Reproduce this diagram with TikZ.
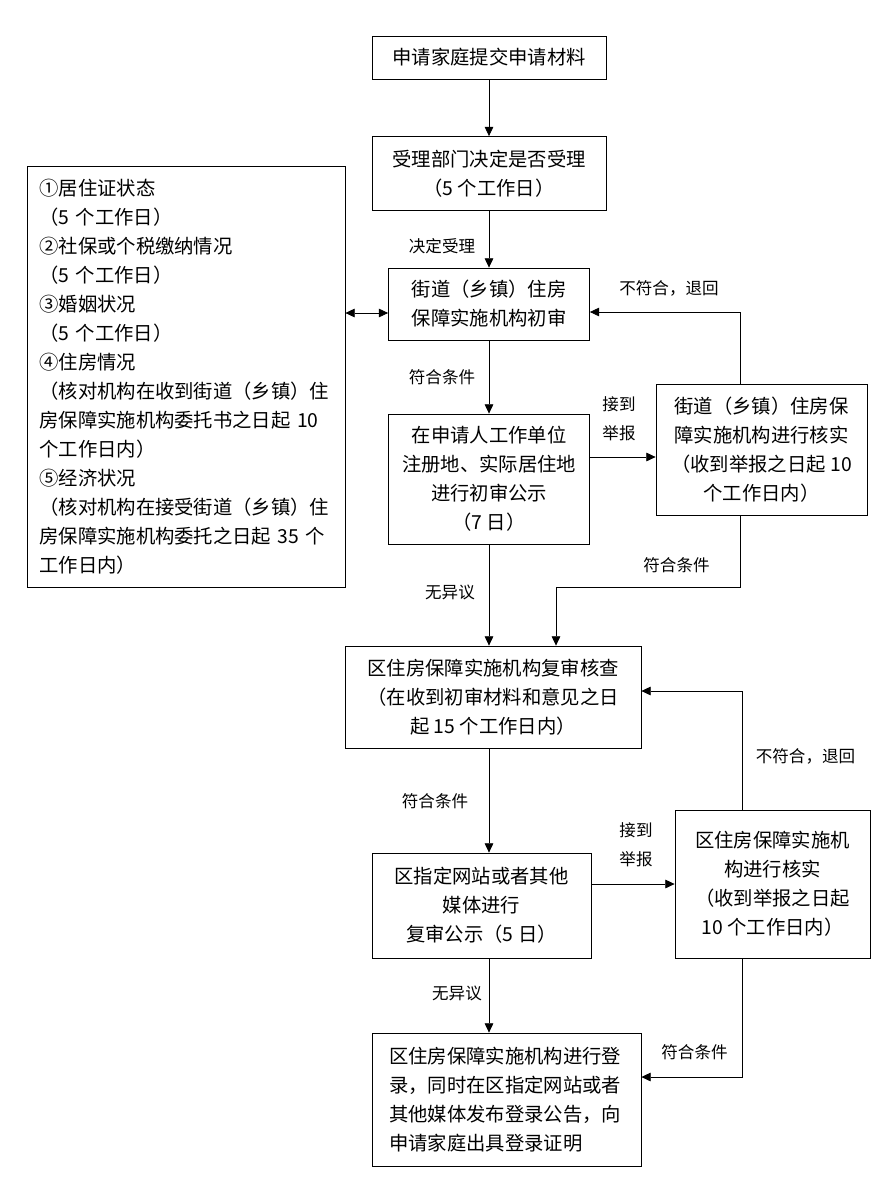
\documentclass[tikz,border=0pt]{standalone}
\usepackage{fontspec}
\setmainfont{Noto Sans CJK SC}
\usetikzlibrary{arrows.meta}

\begin{document}
\begin{tikzpicture}[x=0.75pt,y=-0.75pt,line width=0.6pt,
		box/.style={draw,align=center,inner sep=0pt,font=\fontsize{14.5}{21.75}\selectfont},
		lbl/.style={align=left,inner sep=0pt,font=\fontsize{12.4}{21.75}\selectfont},
		arr/.style={-{Triangle[length=7pt,width=6.5pt]}},
		dbl/.style={{Triangle[length=7pt,width=6.5pt]}-{Triangle[length=7pt,width=6.5pt]}}]
		\useasboundingbox (0,0) rectangle (893,1192);
		\node[box,minimum width=175.5pt,minimum height=32.25pt] (apply) at (489,57.5) {申请家庭提交申请材料};
		\node[box,minimum width=175.5pt,minimum height=55.5pt] (accept) at (489,173.5) {受理部门决定是否受理\\（5 个工作日）};
		\node[box,align=left,text width=220pt,minimum width=238.5pt,minimum height=315.75pt] (items) at (186,376.5) {①居住证状态\\（5 个工作日）\\②社保或个税缴纳情况\\（5 个工作日）\\③婚姻状况\\（5 个工作日）\\④住房情况\\（核对机构在收到街道（乡镇）住\\房保障实施机构委托书之日起 10\\个工作日内）\\⑤经济状况\\（核对机构在接受街道（乡镇）住\\房保障实施机构委托之日起 35 个\\工作日内）};
		\node[box,minimum width=150.75pt,minimum height=54pt] (first) at (489,304) {街道（乡镇）住房\\保障实施机构初审};
		\node[box,minimum width=150.75pt,minimum height=97.5pt] (firstpub) at (489,479) {在申请人工作单位\\注册地、实际居住地\\进行初审公示\\（7 日）};
		\node[box,minimum width=158.25pt,minimum height=98.25pt] (firstchk) at (761.5,449.5) {街道（乡镇）住房保\\障实施机构进行核实\\（收到举报之日起 10\\个工作日内）};
		\node[box,minimum width=222pt,minimum height=76.5pt] (second) at (493,697) {区住房保障实施机构复审核查\\（在收到初审材料和意见之日\\起 15 个工作日内）};
		\node[box,minimum width=164.25pt,minimum height=78.75pt] (secondpub) at (481.5,905.5) {区指定网站或者其他\\媒体进行\\复审公示（5 日）};
		\node[box,minimum width=146.25pt,minimum height=111pt] (secondchk) at (772.5,884) {区住房保障实施机\\构进行核实\\（收到举报之日起\\10 个工作日内）};
		\node[box,align=left,text width=176pt,minimum width=201.75pt,minimum height=99.75pt] (record) at (506.5,1099.5) {区住房保障实施机构进行登\\录，同时在区指定网站或者\\其他媒体发布登录公告，向\\申请家庭出具登录证明};
		\coordinate (col) at (489,0);
		\coordinate (dblrow) at (0,313);
		\coordinate (rep1) at (0,457);
		\coordinate (back1) at (740,312);
		\coordinate (ok1) at (556,587);
		\coordinate (back2) at (742,691);
		\coordinate (ok2) at (742,1077);
		\draw[arr] (apply) -- (accept);
		\draw[arr] (accept) -- (first);
		\draw[dbl] (items.east |- dblrow) -- (first.west |- dblrow);
		\draw[arr] (first) -- (firstpub);
		\draw[arr] (firstpub.east |- rep1) -- (firstchk.west |- rep1);
		\draw[arr] (firstchk.north -| back1) -- (back1) -- (first.east |- back1);
		\draw[arr] (firstchk.south -| back1) |- (ok1) -- (second.north -| ok1);
		\draw[arr] (firstpub.south -| col) -- (second.north -| col);
		\draw[arr] (second.south -| col) -- (secondpub.north -| col);
		\draw[arr] (secondpub.east |- secondchk.west) -- (secondchk.west);
		\draw[arr] (secondchk.north -| back2) -- (back2) -- (second.east |- back2);
		\draw[arr] (secondchk.south -| ok2) -- (ok2) -- (record.east |- ok2);
		\draw[arr] (secondpub.south -| col) -- (record.north -| col);
		\node[lbl] (l1) at (442,246) {决定受理};
		\node[lbl] (l2) at (442,377) {符合条件};
		\node[lbl] (l3) at (669,288) {不符合，退回};
		\node[lbl] (l4) at (619,419) {接到\\举报};
		\node[lbl] (l5) at (676.5,565) {符合条件};
		\node[lbl] (l6) at (450,592) {无异议};
		\node[lbl] (l7) at (435,801) {符合条件};
		\node[lbl] (l8) at (805.5,756) {不符合，退回};
		\node[lbl] (l9) at (636,845) {接到\\举报};
		\node[lbl] (l10) at (457,993) {无异议};
		\node[lbl] (l11) at (694.5,1052) {符合条件};
	\end{tikzpicture}
\end{document}
